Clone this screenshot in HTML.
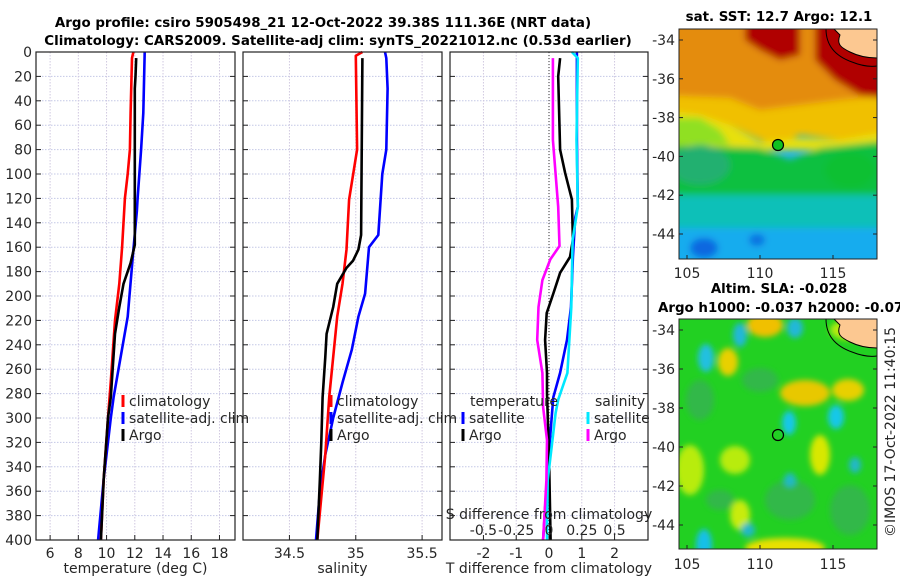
<!DOCTYPE html>
<html><head><meta charset="utf-8"><title>Argo profile</title>
<style>
body{margin:0;background:#fff;}
svg{display:block;font-family:"DejaVu Sans","Liberation Sans",sans-serif;}
.tk{font-size:14px;fill:#262626;}
.tt{font-size:13.4px;font-weight:bold;fill:#000;}
</style></head>
<body>
<svg id="fig" width="900" height="580" viewBox="0 0 900 580">
<defs>
<filter id="bl" x="-10%" y="-10%" width="120%" height="120%"><feGaussianBlur stdDeviation="3.5"/></filter>
<filter id="bl2" x="-10%" y="-10%" width="120%" height="120%"><feGaussianBlur stdDeviation="3"/></filter>
<clipPath id="m1c"><rect x="679" y="29" width="198" height="230"/></clipPath>
<clipPath id="m2c"><rect x="679" y="319" width="198" height="230"/></clipPath>
</defs>
<text class="tt" x="323" y="27" text-anchor="middle">Argo profile: csiro 5905498_21 12-Oct-2022 39.38S 111.36E (NRT data)</text>
<text class="tt" x="338" y="45" text-anchor="middle">Climatology: CARS2009. Satellite-adj clim: synTS_20221012.nc (0.53d earlier)</text>
<g id="panels"></g>

<!-- SST map -->
<text class="tt" x="779" y="21" text-anchor="middle">sat. SST: 12.7 Argo: 12.1</text>
<g clip-path="url(#m1c)">
 <rect x="679" y="29" width="198" height="230" fill="#1ab4e6"/>
 <g filter="url(#bl)">
  <rect x="660" y="10" width="235" height="100" fill="#e48c10"/>
  <polygon points="660,95 730,98 760,110 800,105 840,100 895,95 895,140 840,140 800,135 780,145 760,140 730,125 700,118 660,115" fill="#f0c000"/>
  <polygon points="660,110 700,115 730,125 760,142 800,138 840,140 895,130 895,150 660,150" fill="#e8e010"/>
  <polygon points="660,118 700,118 720,130 730,145 660,145" fill="#90e020"/>
  <polygon points="660,145 760,148 790,160 820,148 895,140 895,205 660,205" fill="#10c040"/>
  <ellipse cx="700" cy="165" rx="30" ry="20" fill="#20b070"/>
  <ellipse cx="850" cy="170" rx="25" ry="18" fill="#10c030"/>
  <rect x="660" y="195" width="235" height="40" fill="#10c0b8"/>
  <rect x="660" y="228" width="235" height="45" fill="#18acee"/>
  <ellipse cx="704" cy="248" rx="14" ry="10" fill="#1068e0"/>
  <ellipse cx="757" cy="240" rx="8" ry="6" fill="#1070e0"/>
  <polygon points="745,10 800,10 800,55 780,60 760,50 745,40" fill="#b00000"/>
  <polygon points="815,10 895,10 895,100 860,95 835,80 815,60" fill="#b00000"/>
 </g>
 <path d="M834,29 L840,35 C836,45 842,48 850,52 C858,56 866,58 877,58 L877,29 Z" fill="#fcc891" stroke="#000" stroke-width="1"/>
 <path d="M826,29 C826,45 835,56 852,62 C862,66 870,67 877,66" fill="none" stroke="#000" stroke-width="1"/>
 <circle cx="778" cy="145" r="5.5" fill="#10c020" stroke="#000" stroke-width="1.2"/>
</g>
<rect x="679" y="29" width="198" height="230" fill="none" stroke="#222" stroke-width="1"/>
<g id="m1ax"></g>

<!-- SLA map -->
<text class="tt" x="779" y="293" text-anchor="middle">Altim. SLA: -0.028</text>
<text class="tt" x="658" y="312">Argo h1000: -0.037 h2000: -0.07</text>
<g clip-path="url(#m2c)">
 <rect x="679" y="319" width="198" height="230" fill="#22d022"/>
 <g filter="url(#bl2)">
  <ellipse cx="700" cy="400" rx="14" ry="20" fill="#30b848"/>
  <ellipse cx="760" cy="380" rx="18" ry="12" fill="#30b848"/>
  <ellipse cx="690" cy="470" rx="14" ry="25" fill="#b8ec10"/>
  <ellipse cx="735" cy="460" rx="15" ry="14" fill="#b8ec10"/>
  <ellipse cx="790" cy="500" rx="25" ry="20" fill="#30b848"/>
  <ellipse cx="850" cy="510" rx="20" ry="25" fill="#30b848"/>
  <ellipse cx="720" cy="500" rx="14" ry="10" fill="#30b848"/>
  <ellipse cx="765" cy="325" rx="18" ry="12" fill="#f0c000"/>
  <ellipse cx="728" cy="362" rx="10" ry="14" fill="#e8d000"/>
  <ellipse cx="805" cy="393" rx="25" ry="13" fill="#e8c800"/>
  <ellipse cx="848" cy="390" rx="16" ry="11" fill="#e8d000"/>
  <ellipse cx="820" cy="455" rx="10" ry="20" fill="#d8e800"/>
  <ellipse cx="740" cy="515" rx="10" ry="15" fill="#c8ec10"/>
  <ellipse cx="785" cy="548" rx="40" ry="10" fill="#e8e000"/>
  <ellipse cx="850" cy="330" rx="20" ry="10" fill="#b8ec10"/>
  <ellipse cx="706" cy="358" rx="8" ry="14" fill="#20c0e0"/>
  <ellipse cx="740" cy="335" rx="7" ry="12" fill="#20b8d8"/>
  <ellipse cx="795" cy="328" rx="8" ry="10" fill="#20b8d8"/>
  <ellipse cx="789" cy="423" rx="7" ry="12" fill="#18c8e8"/>
  <ellipse cx="836" cy="417" rx="8" ry="12" fill="#18c8e8"/>
  <ellipse cx="704" cy="545" rx="8" ry="16" fill="#18c0e8"/>
  <ellipse cx="790" cy="480" rx="6" ry="7" fill="#20b8c8"/>
  <ellipse cx="855" cy="465" rx="6" ry="8" fill="#20b8c8"/>
  <ellipse cx="748" cy="530" rx="7" ry="7" fill="#20b8c8"/>
 </g>
 <path d="M834,319 L840,325 C836,335 842,338 850,342 C858,346 866,348 877,348 L877,319 Z" fill="#fcc891" stroke="#000" stroke-width="1"/>
 <path d="M826,319 C826,335 835,346 852,352 C862,356 870,357 877,356" fill="none" stroke="#000" stroke-width="1"/>
 <circle cx="778" cy="435" r="5.5" fill="none" stroke="#000" stroke-width="1.2"/>
</g>
<rect x="679" y="319" width="198" height="230" fill="none" stroke="#222" stroke-width="1"/>
<g id="m2ax"></g>
<text class="tk" transform="translate(895,432) rotate(-90)" text-anchor="middle" font-size="14">©IMOS 17-Oct-2022 11:40:15</text>
</svg>
<script>
// ---- data ----
const depthTicks = [0,20,40,60,80,100,120,140,160,180,200,220,240,260,280,300,320,340,360,380,400];
const tTickLabels = [6,8,10,12,14,16,18];
const sTickLabels = [34.5,35,35.5];
const dTickLabels = [-2,-1,0,1,2];
const dsTickLabels = [-0.5,-0.25,0,0.25,0.5];
const dsTickText = ["-0.5","-0.25","0","0.25","0.5"];

const climTDepth = [0,5,50,80,100,120,160,190,220,270,300,350,400];
const climT = [11.9,11.8,11.7,11.65,11.5,11.3,11.1,10.9,10.6,10.3,10.1,9.8,9.6];
const satTDepth = [0,50,80,120,130,162,217,283,300,350,400];
const satT = [12.7,12.6,12.45,12.2,12.15,11.9,11.5,10.5,10.3,9.8,9.4];
const argoTDepth = [5,20,30,80,158,173,190,209,231,283,300,350,400];
const argoT = [12.1,12.05,12.0,12.0,12.0,11.7,11.2,10.9,10.6,10.3,10.1,9.8,9.6];

const climSDepth = [0,3,80,121,162,190,217,283,330,400];
const climS = [35.05,35.0,35.01,34.95,34.93,34.9,34.86,34.8,34.77,34.71];
const satSDepth = [0,5,30,80,100,150,160,198,217,244,271,300,330,360,400];
const satS = [35.22,35.23,35.24,35.23,35.2,35.17,35.1,35.07,35.02,34.97,34.9,34.83,34.77,34.73,34.70];
const argoSDepth = [5,150,162,171,177,190,209,231,250,283,320,350,400];
const argoS = [35.05,35.04,35.02,34.98,34.93,34.86,34.83,34.78,34.77,34.75,34.74,34.73,34.71];

const dTsatDepth = [0,72,127,136,168,209,236,263,283,320,350,400];
const dTsat = [0.85,0.85,0.88,0.8,0.73,0.67,0.55,0.34,0.13,0.02,-0.06,-0.18];
const dTargoDepth = [5,20,80,99,121,154,168,181,198,214,236,263,280,330,400];
const dTargo = [0.34,0.28,0.34,0.49,0.7,0.73,0.64,0.34,0.13,-0.07,-0.12,-0.06,-0.06,0.0,0.05];
const dSsatDepth = [0,5,72,127,154,209,263,285,296,324,351,395,400];
const dSsat = [0.175,0.22,0.21,0.22,0.18,0.17,0.14,0.07,0.05,0.02,-0.01,-0.015,-0.015];
const dSargoDepth = [5,72,127,159,170,187,209,236,263,291,318,351,400];
const dSargo = [0.03,0.03,0.07,0.08,0.01,-0.05,-0.08,-0.09,-0.05,-0.045,-0.015,-0.02,-0.045];

const latTicks = [-34,-36,-38,-40,-42,-44];
const lonTicks = [105,110,115];

// ---- helpers ----
const NS = "http://www.w3.org/2000/svg";
const root = document.getElementById('panels');
function mk(tag, attrs, parent){const e=document.createElementNS(NS,tag);for(const k in attrs)e.setAttribute(k,attrs[k]);(parent||root).appendChild(e);return e;}
const Y0=52, Y1=540;
function yD(d){return Y0 + d*(Y1-Y0)/400;}
function lin(d0,d1,r0,r1){return v=>r0+(v-d0)*(r1-r0)/(d1-d0);}

const panelsDef = [
 {x0:36,x1:235,sc:lin(5,19.1,36,235),ticks:tTickLabels,text:tTickLabels.map(String),title:'temperature (deg C)',name:'temperature-panel'},
 {x0:243,x1:442,sc:lin(34.15,35.65,243,442),ticks:sTickLabels,text:["34.5","35","35.5"],title:'salinity',name:'salinity-panel'},
 {x0:450,x1:648,sc:lin(-3.02,3.02,450,648),ticks:dTickLabels,text:dTickLabels.map(String),title:'T difference from climatology',name:'difference-panel'}
];
const xsDS = lin(-0.755,0.755,450,648);

panelsDef.forEach((p,i)=>{
  const g = mk('g',{});
  
  
  mk('rect',{x:p.x0,y:Y0,width:p.x1-p.x0,height:Y1-Y0,fill:'#fff'},g);
  depthTicks.forEach(d=>{
    if(d>0&&d<400) mk('line',{x1:p.x0,x2:p.x1,y1:yD(d),y2:yD(d),stroke:'#c4c8e6','stroke-width':1,'stroke-dasharray':'1.5,1.5'},g);
    mk('line',{x1:p.x0,x2:p.x0+5,y1:yD(d),y2:yD(d),stroke:'#222'},g);
    mk('line',{x1:p.x1-5,x2:p.x1,y1:yD(d),y2:yD(d),stroke:'#222'},g);
  });
  p.ticks.forEach((v,k)=>{
    const x=p.sc(v);
    mk('line',{x1:x,x2:x,y1:Y0,y2:Y1,stroke:'#d0c8e0','stroke-width':1,'stroke-dasharray':'1.5,1.5'},g);
    mk('line',{x1:x,x2:x,y1:Y1-5,y2:Y1,stroke:'#222'},g);
    const t=mk('text',{x:x,y:Y1+18,'text-anchor':'middle',class:'tk'},g);
    t.textContent=p.text[k];
    
    
  });
  const tt=mk('text',{x:(p.x0+p.x1)/2,y:Y1+33,'text-anchor':'middle',class:'tk','font-size':15},g);
  tt.textContent=p.title;
  
  
  p.g=g;
});
// depth labels
depthTicks.forEach(d=>{
  const t=mk('text',{x:32,y:yD(d)+5,'text-anchor':'end',class:'tk'});
  t.textContent=d;
  
  
});
// zero line in diff panel
const zl=mk('line',{x1:549,x2:549,y1:Y0,y2:Y1,stroke:'#333','stroke-dasharray':'1,2'});



function line(depths, vals, sc, color, name){
  const pts = depths.map((d,i)=>sc(vals[i]).toFixed(1)+','+yD(d).toFixed(1)).join(' ');
  const pl = mk('polyline',{points:pts,fill:'none',stroke:color,'stroke-width':2.6,'stroke-linejoin':'round'});
  
  
}
const P=panelsDef;
line(satTDepth,satT,P[0].sc,'#0000ff','sat-temperature-line');
line(climTDepth,climT,P[0].sc,'#ff0000','clim-temperature-line');
line(argoTDepth,argoT,P[0].sc,'#000','argo-temperature-line');
line(satSDepth,satS,P[1].sc,'#0000ff','sat-salinity-line');
line(climSDepth,climS,P[1].sc,'#ff0000','clim-salinity-line');
line(argoSDepth,argoS,P[1].sc,'#000','argo-salinity-line');
line(dTsatDepth,dTsat,P[2].sc,'#0000ff','sat-t-diff-line');
line(dTargoDepth,dTargo,P[2].sc,'#000','argo-t-diff-line');
line(dSsatDepth,dSsat,xsDS,'#00e8ff','sat-s-diff-line');
line(dSargoDepth,dSargo,xsDS,'#ff00ff','argo-s-diff-line');

// S axis inside panel 3
const sl=mk('text',{x:549,y:519,'text-anchor':'middle',class:'tk','font-size':14.5});
sl.textContent='S difference from climatology';


dsTickLabels.forEach((v,k)=>{
  const t=mk('text',{x:xsDS(v),y:535,'text-anchor':'middle',class:'tk'});
  t.textContent=dsTickText[k];
  
  
});
// frames
panelsDef.forEach(p=>{
  const r=mk('rect',{x:p.x0,y:Y0,width:p.x1-p.x0,height:Y1-Y0,fill:'none',stroke:'#222','stroke-width':1.2});
  
  
});
// legends
function leg(x,y,color,label){
  const m=mk('rect',{x:x-1.5,y:y-11,width:3,height:12,fill:color});
  
  
  if(label){const t=mk('text',{x:x+6,y:y,class:'tk','font-size':14.5});t.textContent=label;
  
  }
}
[[123],[331]].forEach(([x])=>{
  leg(x,406,'#ff0000','climatology');
  leg(x,423,'#0000ff','satellite-adj. clim');
  leg(x,440,'#000','Argo');
});
let ht=mk('text',{x:470,y:406,class:'tk','font-size':14.5});ht.textContent='temperature';


leg(463,423,'#0000ff','satellite');
leg(463,440,'#000','Argo');
ht=mk('text',{x:595,y:406,class:'tk','font-size':14.5});ht.textContent='salinity';


leg(588,423,'#00e8ff','satellite');
leg(588,440,'#ff00ff','Argo');

// map axes
function mapAxes(gid, top, latY0, latY1, lonY){
  const g=document.getElementById(gid);
  const ly=lin(-34,-44,latY0,latY1), lx=lin(105,115,687,833);
  latTicks.forEach(v=>{
    mk('line',{x1:679,x2:683,y1:ly(v),y2:ly(v),stroke:'#222'},g);
    mk('line',{x1:873,x2:877,y1:ly(v),y2:ly(v),stroke:'#222'},g);
    const t=mk('text',{x:675,y:ly(v)+5,'text-anchor':'end',class:'tk'},g);t.textContent=v;
    
    
  });
  lonTicks.forEach(v=>{
    mk('line',{x1:lx(v),x2:lx(v),y1:top+226,y2:top+230,stroke:'#222'},g);
    const t=mk('text',{x:lx(v),y:lonY,'text-anchor':'middle',class:'tk'},g);t.textContent=v;
    
    
  });
}
mapAxes('m1ax',29,40,234,278);
mapAxes('m2ax',319,330,525,569);
</script>
</body></html>
